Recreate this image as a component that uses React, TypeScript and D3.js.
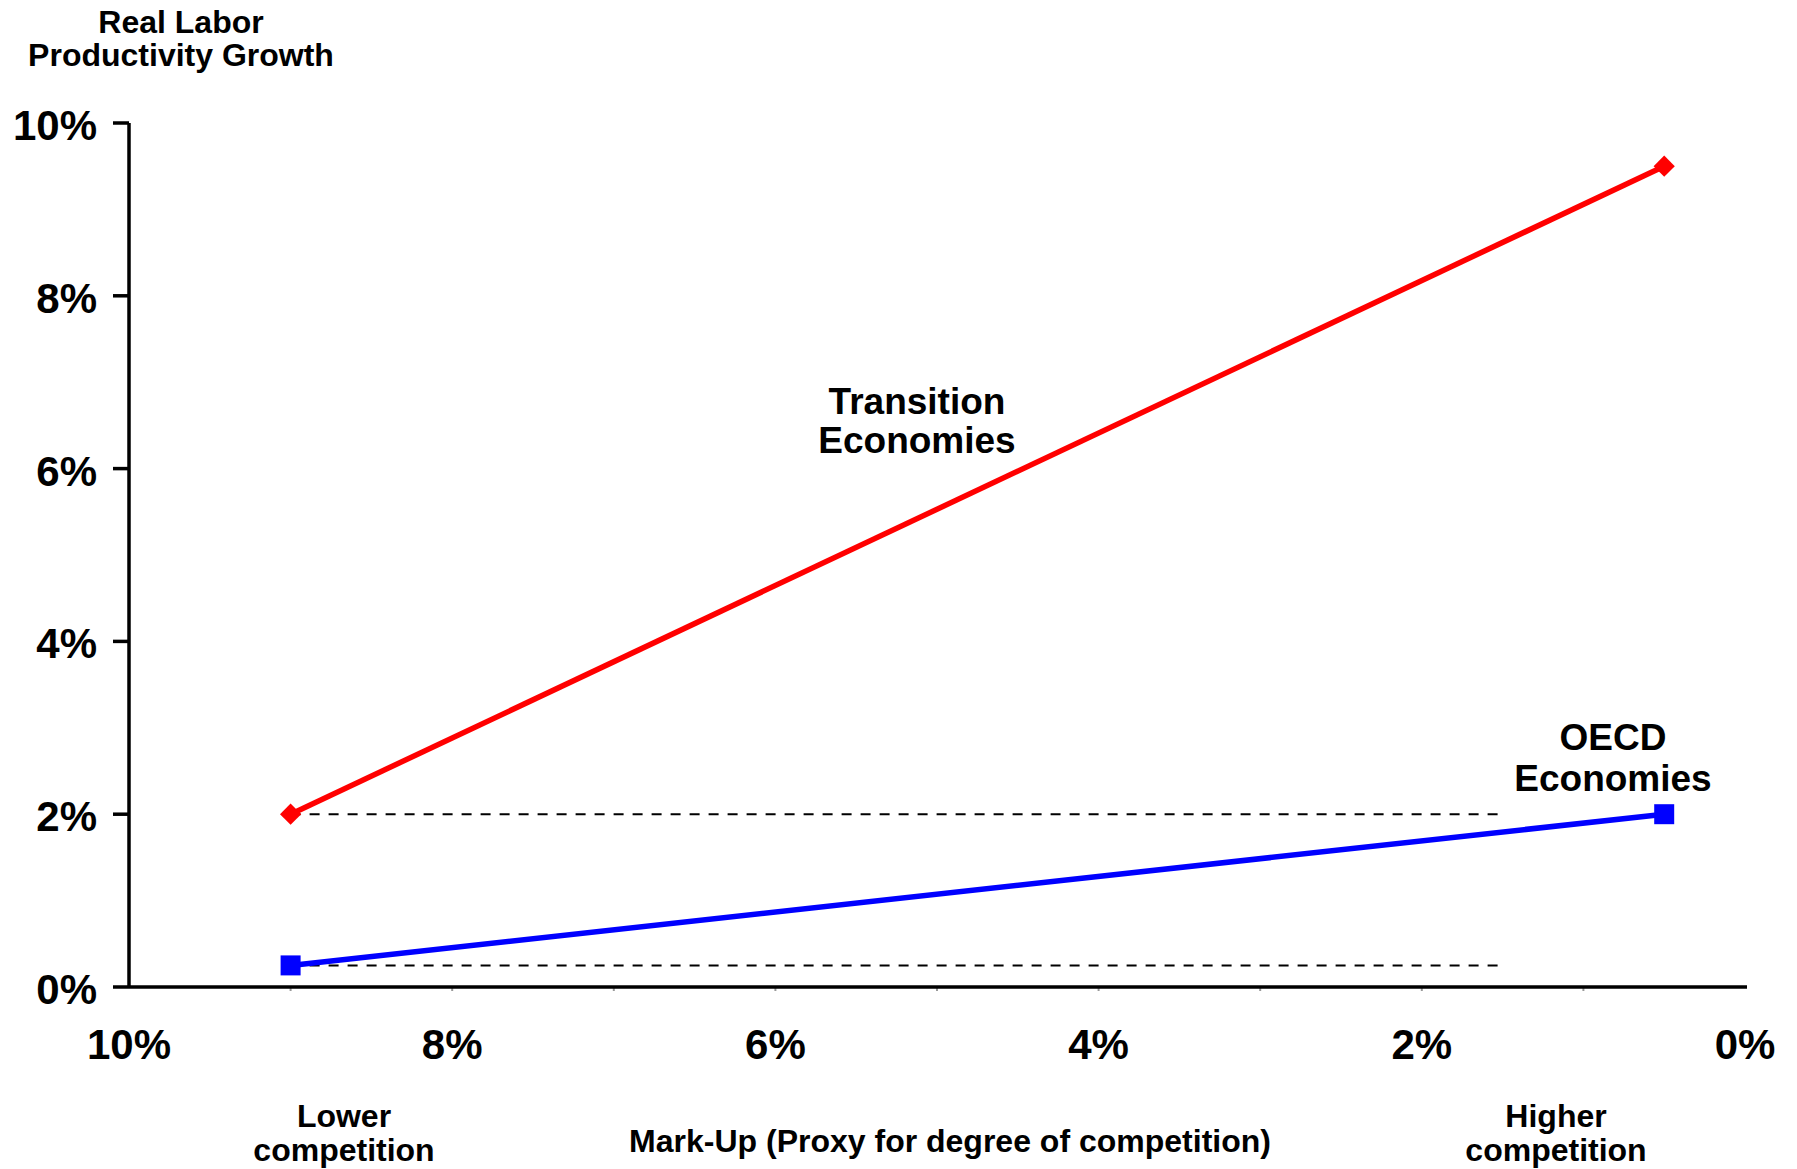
import React from "react";
import * as d3 from "d3";

// Mark-up (x) against real labour productivity growth (y), both in percent
const markUp = [9, 0.5];
const transitionGrowth = [2, 9.5];
const oecdGrowth = [0.25, 2];

// Horizontal reference levels (growth at the low-competition end)
const referenceLevels = [2, 0.25];
const referenceSpan = [9, 1.5];

const xTickLabels = [10, 8, 6, 4, 2, 0];
const xMinorTicks = [9, 7, 5, 3, 1];
const yTickLabels = [0, 2, 4, 6, 8, 10];

const W = 1797;
const H = 1169;
const FONT = "'Liberation Sans', Arial, Helvetica, sans-serif";

export default function App() {
  const x = d3.scaleLinear().domain([10, 0]).range([129, 1745]);
  const y = d3.scaleLinear().domain([0, 10]).range([987, 123]);

  const line = d3
    .line<[number, number]>()
    .x((d) => x(d[0]))
    .y((d) => y(d[1]));

  const transitionPts = markUp.map((m, i) => [m, transitionGrowth[i]] as [number, number]);
  const oecdPts = markUp.map((m, i) => [m, oecdGrowth[i]] as [number, number]);

  const diamond = d3.symbol().type(d3.symbolSquare).size(15 * 15)();
  const square = d3.symbol().type(d3.symbolSquare).size(20 * 20)();

  return (
    <svg
      width={W}
      height={H}
      style={{ position: "absolute", left: 0, top: 0, background: "#fff" }}
      fontFamily={FONT}
      fontWeight="bold"
    >
      <rect width={W} height={H} fill="#fff" />

      {/* y-axis title */}
      <text x={181} y={33} fontSize={32} textAnchor="middle" fill="#000">
        Real Labor
      </text>
      <text x={181} y={66} fontSize={32} textAnchor="middle" fill="#000">
        Productivity Growth
      </text>

      {/* reference dashed lines */}
      {referenceLevels.map((lv) => (
        <line
          key={"ref" + lv}
          x1={x(referenceSpan[0])}
          x2={x(referenceSpan[1])}
          y1={y(lv)}
          y2={y(lv)}
          stroke="#000"
          strokeWidth={2}
          strokeDasharray="10,9"
        />
      ))}

      {/* minor x ticks */}
      {xMinorTicks.concat(xTickLabels.slice(1, 5)).map((t) => (
        <line
          key={"mx" + t}
          x1={x(t)}
          x2={x(t)}
          y1={y(0)}
          y2={y(0) + 4}
          stroke="#999"
          strokeWidth={2}
        />
      ))}

      {/* axes */}
      <line x1={x(10)} x2={x(10)} y1={y(10)} y2={y(0)} stroke="#000" strokeWidth={3.5} />
      <line x1={x(10)} x2={x(0) + 2} y1={y(0)} y2={y(0)} stroke="#000" strokeWidth={3.5} />
      {yTickLabels.map((t) => (
        <g key={"y" + t}>
          <line x1={x(10) - 16} x2={x(10)} y1={y(t)} y2={y(t)} stroke="#000" strokeWidth={3.5} />
          <text x={97} y={y(t) + 17} fontSize={42} textAnchor="end" fill="#000">
            {t}%
          </text>
        </g>
      ))}
      {xTickLabels.map((t) => (
        <text key={"x" + t} x={x(t)} y={1059} fontSize={42} textAnchor="middle" fill="#000">
          {t}%
        </text>
      ))}

      {/* series lines */}
      <path d={line(transitionPts) || ""} fill="none" stroke="#FF0000" strokeWidth={5.5} />
      <path d={line(oecdPts) || ""} fill="none" stroke="#0000FF" strokeWidth={5.5} />

      {transitionPts.map((p, i) => (
        <path
          key={"tp" + i}
          d={diamond || ""}
          transform={`translate(${x(p[0])},${y(p[1])}) rotate(45)`}
          fill="#FF0000"
        />
      ))}
      {oecdPts.map((p, i) => (
        <path
          key={"op" + i}
          d={square || ""}
          transform={`translate(${x(p[0])},${y(p[1])})`}
          fill="#0000FF"
        />
      ))}

      {/* series labels */}
      <text x={917} y={414} fontSize={37} textAnchor="middle" fill="#000">
        Transition
      </text>
      <text x={917} y={453} fontSize={37} textAnchor="middle" fill="#000">
        Economies
      </text>
      <text x={1613} y={750} fontSize={37} textAnchor="middle" fill="#000">
        OECD
      </text>
      <text x={1613} y={791} fontSize={37} textAnchor="middle" fill="#000">
        Economies
      </text>

      {/* x-axis annotations */}
      <text x={344} y={1127} fontSize={32} textAnchor="middle" fill="#000">
        Lower
      </text>
      <text x={344} y={1161} fontSize={32} textAnchor="middle" fill="#000">
        competition
      </text>
      <text x={1556} y={1127} fontSize={32} textAnchor="middle" fill="#000">
        Higher
      </text>
      <text x={1556} y={1161} fontSize={32} textAnchor="middle" fill="#000">
        competition
      </text>
      <text x={950} y={1152} fontSize={32} textAnchor="middle" fill="#000">
        Mark-Up (Proxy for degree of competition)
      </text>
    </svg>
  );
}
